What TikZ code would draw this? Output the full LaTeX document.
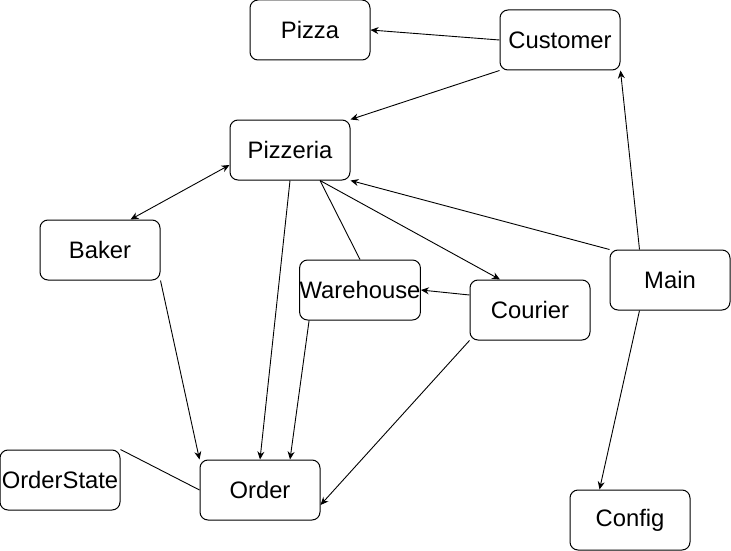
\documentclass[tikz,border=0pt]{standalone}
\usepackage{fontspec}
\setmainfont{Liberation Sans}
\usetikzlibrary{arrows.meta}
\begin{document}
\begin{tikzpicture}[x=1pt,y=-1pt,
  box/.style={draw,line width=1pt,rounded corners=8pt,minimum width=120pt,minimum height=60pt,inner sep=0pt,font=\fontsize{23.8}{28}\selectfont,anchor=center},
  conn/.style={line width=0.9pt},
  arr/.style={conn,-{Stealth[length=8pt,width=7pt]}},
  darr/.style={conn,{Stealth[length=8pt,width=7pt]}-{Stealth[length=8pt,width=7pt]}}]
\useasboundingbox (0,0) rectangle (731,551);
\node[box] (pizza) at (310,30) {Pizza};
\node[box] (cust) at (560,40) {Customer};
\node[box] (pzr) at (290,150) {Pizzeria};
\node[box] (baker) at (100,250) {Baker};
\node[box] (wh) at (360,290) {Warehouse};
\node[box] (courier) at (530,310) {Courier};
\node[box] (main) at (670,280) {Main};
\node[box] (os) at (60,480) {OrderState};
\node[box] (order) at (260,490) {Order};
\node[box] (config) at (630,520) {Config};

\draw[arr] (cust.west) -- (pizza.east);
\draw[arr] (cust.south west) -- (pzr.north east);
\draw[darr] ([yshift=-15pt]pzr.west) -- ([xshift=-30pt]baker.north east);
\draw[arr] (pzr.south) -- (order.north);
\draw[arr] ([xshift=30pt]pzr.south) -- ([xshift=-30pt]courier.north);
\draw[conn] ([xshift=30pt]pzr.south) -- (wh.north);
\draw[arr] (main.north west) -- (pzr.south east);
\draw[arr] ([xshift=30pt]main.north west) -- (cust.south east);
\draw[arr] ([xshift=30pt]main.south west) -- ([xshift=30pt]config.north west);
\draw[arr] ([yshift=15pt]courier.west) -- (wh.east);
\draw[arr] (courier.south west) -- ([yshift=-15pt]order.east);
\draw[arr] ([xshift=10pt]wh.south west) -- ([xshift=30pt]order.north);
\draw[arr] (baker.south east) -- (order.north west);
\draw[conn] (os.north east) -- (order.west);
\end{tikzpicture}
\end{document}
